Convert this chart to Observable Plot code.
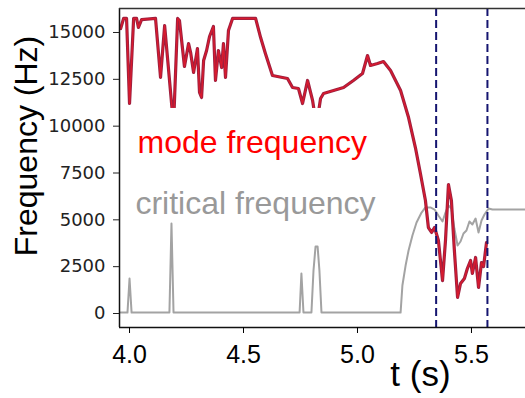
<!DOCTYPE html>
<html><head><meta charset="utf-8">
<script src="https://cdn.jsdelivr.net/npm/d3@7"></script>
<script src="https://cdn.jsdelivr.net/npm/@observablehq/plot@0.6"></script>
<style>body{margin:0;background:#fff} svg{display:block}</style>
</head><body><div id="chart"></div>
<script>
// ---- data ----
const modeT = [3.961,3.974,3.987,4.000,4.018,4.031,4.039,4.053,4.114,4.136,4.154,4.193,4.211,4.219,4.241,4.259,4.268,4.281,4.298,4.307,4.316,4.325,4.338,4.351,4.368,4.377,4.390,4.404,4.412,4.421,4.434,4.452,4.553,4.575,4.596,4.627,4.671,4.693,4.715,4.741,4.759,4.781,4.803,4.820,4.838,4.851,4.895,4.939,4.982,5.022,5.044,5.057,5.088,5.114,5.145,5.189,5.224,5.254,5.276,5.298,5.311,5.325,5.338,5.355,5.373,5.386,5.399,5.412,5.425,5.439,5.452,5.469,5.482,5.496,5.504,5.518,5.531,5.544,5.553,5.566];
const modeF = [15213,15750,15750,11210,15750,15750,15267,15690,15750,12600,15370,10040,15750,15640,13185,14410,13930,12865,14145,11800,11530,13505,14040,14785,15320,12440,14040,13130,14410,12600,15105,15750,15750,14730,13880,12705,12600,12545,12065,12010,11210,12440,11370,10035,11475,11745,11905,12065,12440,12810,13770,13240,13345,13450,12970,11905,10460,8860,7475,6030,4590,4325,4590,3895,1760,3895,6885,6030,3365,855,1600,1870,2400,2830,2135,2990,1390,2720,2510,3790];
const critT = [3.961,3.991,4.000,4.009,4.175,4.184,4.193,4.746,4.754,4.763,4.798,4.807,4.816,4.825,4.833,4.842,5.189,5.197,5.211,5.224,5.241,5.259,5.281,5.298,5.320,5.338,5.355,5.373,5.386,5.399,5.412,5.425,5.439,5.452,5.465,5.478,5.491,5.504,5.518,5.531,5.544,5.557,5.575,5.592,5.737];
const critF = [50,50,1870,50,50,4800,50,50,2135,50,50,2295,3575,3575,2295,50,50,1495,2560,3365,4165,4860,5390,5660,5660,5550,5230,4910,5390,5765,5605,4535,3630,3845,4270,4430,4910,4750,5070,4325,4965,5285,5605,5550,5550];
const markerT = [5.345, 5.570];
const xTicks = [4.0, 4.5, 5.0, 5.5];
const yTicks = [0, 2500, 5000, 7500, 10000, 12500, 15000];
const xDomain = [3.956, 5.737];
const yDomain = [-747, 16281];
const boxT = [xDomain[0], 5.18];
const boxF = [4965, 10945];
const labelText = ["mode frequency", "critical frequency"];
const labelT = [4.035, 4.026];
const labelF = [9130, 5873];
const xLabel = "t (s)";
const xLabelT = 5.276;
const yLabel = "Frequency (Hz)";

const mode = modeT.map((t, i) => ({t, f: modeF[i]}));
const crit = critT.map((t, i) => ({t, f: critF[i]}));
const labels = labelText.map((text, i) => ({text, t: labelT[i], f: labelF[i]}));
const sans = "'Liberation Sans', Arial, sans-serif";

const chart = Plot.plot({
  width: 525, height: 398,
  marginTop: 8, marginBottom: 71, marginLeft: 119, marginRight: 0,
  style: {background: "#fff", overflow: "visible"},
  x: {domain: xDomain},
  y: {domain: yDomain},
  marks: [
    Plot.line(crit, {x: "t", y: "f", stroke: "#a3a3a3", strokeWidth: 2}),
    Plot.line(mode, {x: "t", y: "f", stroke: "#9a2040", strokeWidth: 3.2}),
    Plot.line(mode, {x: "t", y: "f", stroke: "#d81a2e", strokeWidth: 1.4}),
    Plot.rect([{}], {x1: () => boxT[0], x2: () => boxT[1], y1: () => boxF[0], y2: () => boxF[1], fill: "#fff"}),
    Plot.ruleX(markerT, {stroke: "#151570", strokeWidth: 2, strokeDasharray: "8,4"}),
    Plot.ruleX([xDomain[0]], {stroke: "#111", strokeWidth: 1.5}),
    Plot.ruleY([yDomain[0]], {stroke: "#111", strokeWidth: 1.5}),
    Plot.ruleY([yDomain[1]], {stroke: "#333", strokeWidth: 1.5}),
    Plot.axisY({ticks: yTicks, tickSize: 6, tickPadding: 8, tickFormat: d => String(d), fontSize: 18, fontFamily: "'DejaVu Sans', sans-serif", color: "#222", label: null}),
    Plot.axisX({ticks: xTicks, tickSize: 6, tickPadding: 12, tickFormat: d3.format(".1f"), fontSize: 25, fontFamily: sans, color: "#000", label: null}),
    Plot.text(labels.slice(0, 1), {x: "t", y: "f", text: "text", textAnchor: "start", fill: "#ff0000", fontSize: 32, fontFamily: sans}),
    Plot.text(labels.slice(1), {x: "t", y: "f", text: "text", textAnchor: "start", fill: "#999999", fontSize: 32, fontFamily: sans}),
    Plot.text([xLabel], {x: () => xLabelT, frameAnchor: "bottom", text: d => d, dy: 58, fontSize: 35, fontFamily: sans, fill: "#000"}),
    Plot.text([yLabel], {frameAnchor: "left", textAnchor: "middle", text: d => d, rotate: -90, dx: -93, dy: -22, fontSize: 32, fontFamily: sans, fill: "#000"})
  ]
});
document.getElementById("chart").appendChild(chart);
</script>
</body></html>
